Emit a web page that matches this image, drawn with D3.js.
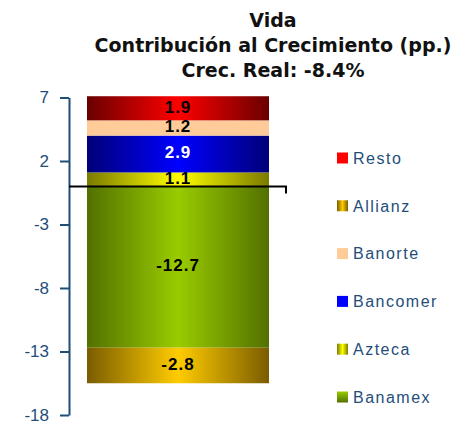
<!DOCTYPE html>
<html><head><meta charset="utf-8">
<script src="https://cdn.jsdelivr.net/npm/d3@7"></script>
<style>body{margin:0;background:#fff}svg{display:block}</style>
</head><body>
<script>
const titleLines = ["Vida", "Contribución al Crecimiento (pp.)", "Crec. Real: -8.4%"];
const category = ["Vida"];
const stackKeys = ["Azteca", "Banamex", "Bancomer", "Allianz", "Banorte", "Resto"];
const seriesValues = [1.1, -12.7, 2.9, -2.8, 1.2, 1.9];
const legendOrder = ["Resto", "Allianz", "Banorte", "Bancomer", "Azteca", "Banamex"];
const tickValues = [7, 2, -3, -8, -13, -18];

const colors = {
  Resto:   {edge: "#6a0000", mid: "#ff0000", legend: "flat", flat: "#ff0000"},
  Allianz: {edge: "#7a5c00", mid: "#ffcc00", legend: "h"},
  Banorte: {edge: "#ffcc99", mid: "#ffcc99", legend: "flat", flat: "#ffcc99"},
  Bancomer:{edge: "#000078", mid: "#0000ff", legend: "flat", flat: "#0000ff"},
  Azteca:  {edge: "#7a7a00", mid: "#ffff00", legend: "h"},
  Banamex: {edge: "#527000", mid: "#99cc00", legend: "v"}
};
const labelColor = {Bancomer: "#ffffff"};

const W = 466, H = 421;
const svg = d3.select("body").append("svg").attr("width", W).attr("height", H);
const defs = svg.append("defs");
Object.entries(colors).forEach(([k, c]) => {
  const g = defs.append("linearGradient").attr("id", "g-" + k).attr("x1", 0).attr("x2", 1).attr("y1", 0).attr("y2", 0);
  g.append("stop").attr("offset", "0%").attr("stop-color", c.edge);
  g.append("stop").attr("offset", "50%").attr("stop-color", c.mid);
  g.append("stop").attr("offset", "100%").attr("stop-color", c.edge);
  const gv = defs.append("linearGradient").attr("id", "gv-" + k).attr("x1", 0).attr("x2", 0).attr("y1", 0).attr("y2", 1);
  gv.append("stop").attr("offset", "0%").attr("stop-color", c.mid);
  gv.append("stop").attr("offset", "100%").attr("stop-color", c.edge);
});

const titleFont = "'DejaVu Sans', sans-serif";
const font = "'Liberation Sans', Arial, sans-serif";
const axisColor = "#1f4e79";
const fmt = v => d3.format(".1f")(v).replace("\u2212", "-");

// title
svg.append("g").selectAll("text").data(titleLines).join("text")
  .attr("x", 273).attr("y", (d, i) => 27 + i * 25)
  .attr("text-anchor", "middle")
  .attr("font-family", titleFont).attr("font-weight", "bold").attr("font-size", 19)
  .attr("fill", "#111").text(d => d);

const y = d3.scaleLinear().domain([-18, 7]).range([415, 97.5]);
const x = d3.scaleBand().domain(category).range([69, 287]).paddingInner(0).paddingOuter(0.0989);

const row = {category: category[0]};
stackKeys.forEach((k, i) => row[k] = seriesValues[i]);
const stacked = d3.stack().keys(stackKeys).offset(d3.stackOffsetDiverging)([row]);

const bars = svg.append("g");
stacked.forEach(s => {
  const d = s[0];
  const y0 = Math.min(d[0], d[1]), y1 = Math.max(d[0], d[1]);
  bars.append("rect")
    .attr("x", x(category[0])).attr("width", x.bandwidth())
    .attr("y", y(y1)).attr("height", y(y0) - y(y1))
    .attr("fill", "url(#g-" + s.key + ")");
});
stacked.forEach(s => {
  const d = s[0];
  const v = row[s.key];
  bars.append("text")
    .attr("x", x(category[0]) + x.bandwidth() / 2)
    .attr("y", y((d[0] + d[1]) / 2))
    .attr("dy", "0.25em")
    .attr("text-anchor", "middle")
    .attr("font-family", font).attr("font-weight", "bold").attr("font-size", 17)
    .attr("letter-spacing", 1)
    .attr("fill", labelColor[s.key] || "#000")
    .text(fmt(v));
});

// y axis
const axis = svg.append("g").attr("transform", "translate(69,0)")
  .call(d3.axisLeft(y).tickValues(tickValues).tickSize(9).tickSizeOuter(0).tickPadding(11).tickFormat(d => String(d)));
axis.select(".domain").attr("stroke", axisColor).attr("stroke-width", 2);
axis.selectAll(".tick line").attr("stroke", axisColor).attr("stroke-width", 2);
axis.selectAll(".tick text").attr("fill", axisColor).attr("font-family", font).attr("font-size", 17);

// zero line
const zg = svg.append("g");
zg.append("line").attr("x1", 69).attr("x2", 287).attr("y1", y(0)).attr("y2", y(0)).attr("stroke", "#000").attr("stroke-width", 2);
zg.append("line").attr("x1", 286).attr("x2", 286).attr("y1", y(0)).attr("y2", y(0) + 7).attr("stroke", "#000").attr("stroke-width", 2);

// legend
const lg = svg.append("g");
legendOrder.forEach((k, i) => {
  const yy = 158 + i * 47.8;
  const c = colors[k];
  const fill = c.legend === "flat" ? c.flat : (c.legend === "v" ? "url(#gv-" + k + ")" : "url(#g-" + k + ")");
  lg.append("rect").attr("x", 337).attr("y", yy - 5.5).attr("width", 11).attr("height", 11).attr("fill", fill);
  lg.append("text").attr("x", 353).attr("y", yy).attr("dy", "0.36em")
    .attr("font-family", font).attr("font-size", 16).attr("letter-spacing", 1.5)
    .attr("fill", axisColor).text(k);
});
</script>
</body></html>
